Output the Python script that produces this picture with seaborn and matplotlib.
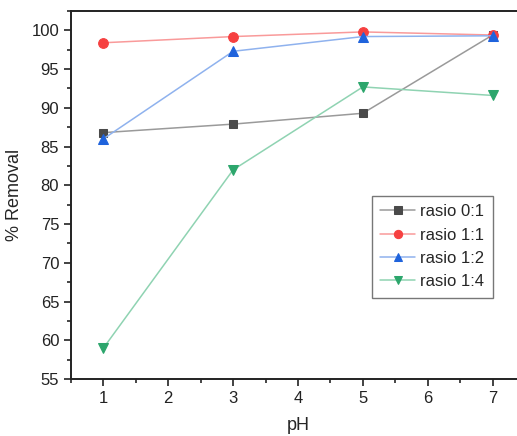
import numpy as np
import pandas as pd
import matplotlib
matplotlib.use("Agg")
import matplotlib.pyplot as plt
import seaborn as sns
from matplotlib.ticker import MultipleLocator

ph = [1, 3, 5, 7]
rasio_01 = [86.8, 87.9, 89.3, 99.4]
rasio_11 = [98.4, 99.2, 99.8, 99.4]
rasio_12 = [86.0, 97.3, 99.2, 99.3]
rasio_14 = [59.0, 82.0, 92.7, 91.6]
labels = ["rasio 0:1", "rasio 1:1", "rasio 1:2", "rasio 1:4"]

series = [rasio_01, rasio_11, rasio_12, rasio_14]
colors = ["#4a4a4a", "#f64040", "#1f63dc", "#2ca66c"]
line_colors = ["#9a9a9a", "#f99a9a", "#8fb2ee", "#8fd3b2"]
markers = ["s", "o", "^", "v"]

sns.set_style("ticks")
plt.rcParams["font.family"] = ["Liberation Sans", "DejaVu Sans"]

fig = plt.figure(figsize=(5.17, 4.36), dpi=100)
ax = fig.add_axes([71 / 517, 1 - 379 / 436, (525 - 71) / 517, (379 - 11) / 436])

for vals, lab, c, lc, m in zip(series, labels, colors, line_colors, markers):
    df = pd.DataFrame({"pH": ph, "removal": vals})
    sns.lineplot(data=df, x="pH", y="removal", ax=ax, color=lc, linewidth=1.1,
                 marker=m, markersize=7 if m != "s" else 6, markerfacecolor=c,
                 markeredgecolor=c, label=lab)

ax.set_xlim(0.5, 7.5)
ax.set_ylim(55, 102.5)
ax.xaxis.set_major_locator(MultipleLocator(1))
ax.xaxis.set_minor_locator(MultipleLocator(0.5))
ax.yaxis.set_major_locator(MultipleLocator(5))
ax.yaxis.set_minor_locator(MultipleLocator(2.5))
ax.tick_params(which="major", direction="out", length=5, width=1.2, labelsize=12, colors="#222222")
ax.tick_params(which="minor", direction="out", length=3, width=1.2)
for s in ["left", "bottom", "top"]:
    ax.spines[s].set_linewidth(1.4)
    ax.spines[s].set_color("#222222")
ax.spines["right"].set_visible(False)

ax.set_xlabel("pH", fontsize=13, labelpad=8)
ax.set_ylabel("% Removal", fontsize=13, labelpad=6)

leg = ax.legend(loc="upper left", bbox_to_anchor=((372 - 71) / 454, 1 - (196 - 11) / 368),
                fontsize=12, frameon=True, fancybox=False, edgecolor="#555555",
                handlelength=2.1, handletextpad=0.3, labelspacing=0.5, borderpad=0.5,
                borderaxespad=0, markerscale=0.85)
leg.get_frame().set_linewidth(1.0)

fig.savefig("out.png", dpi=100)
